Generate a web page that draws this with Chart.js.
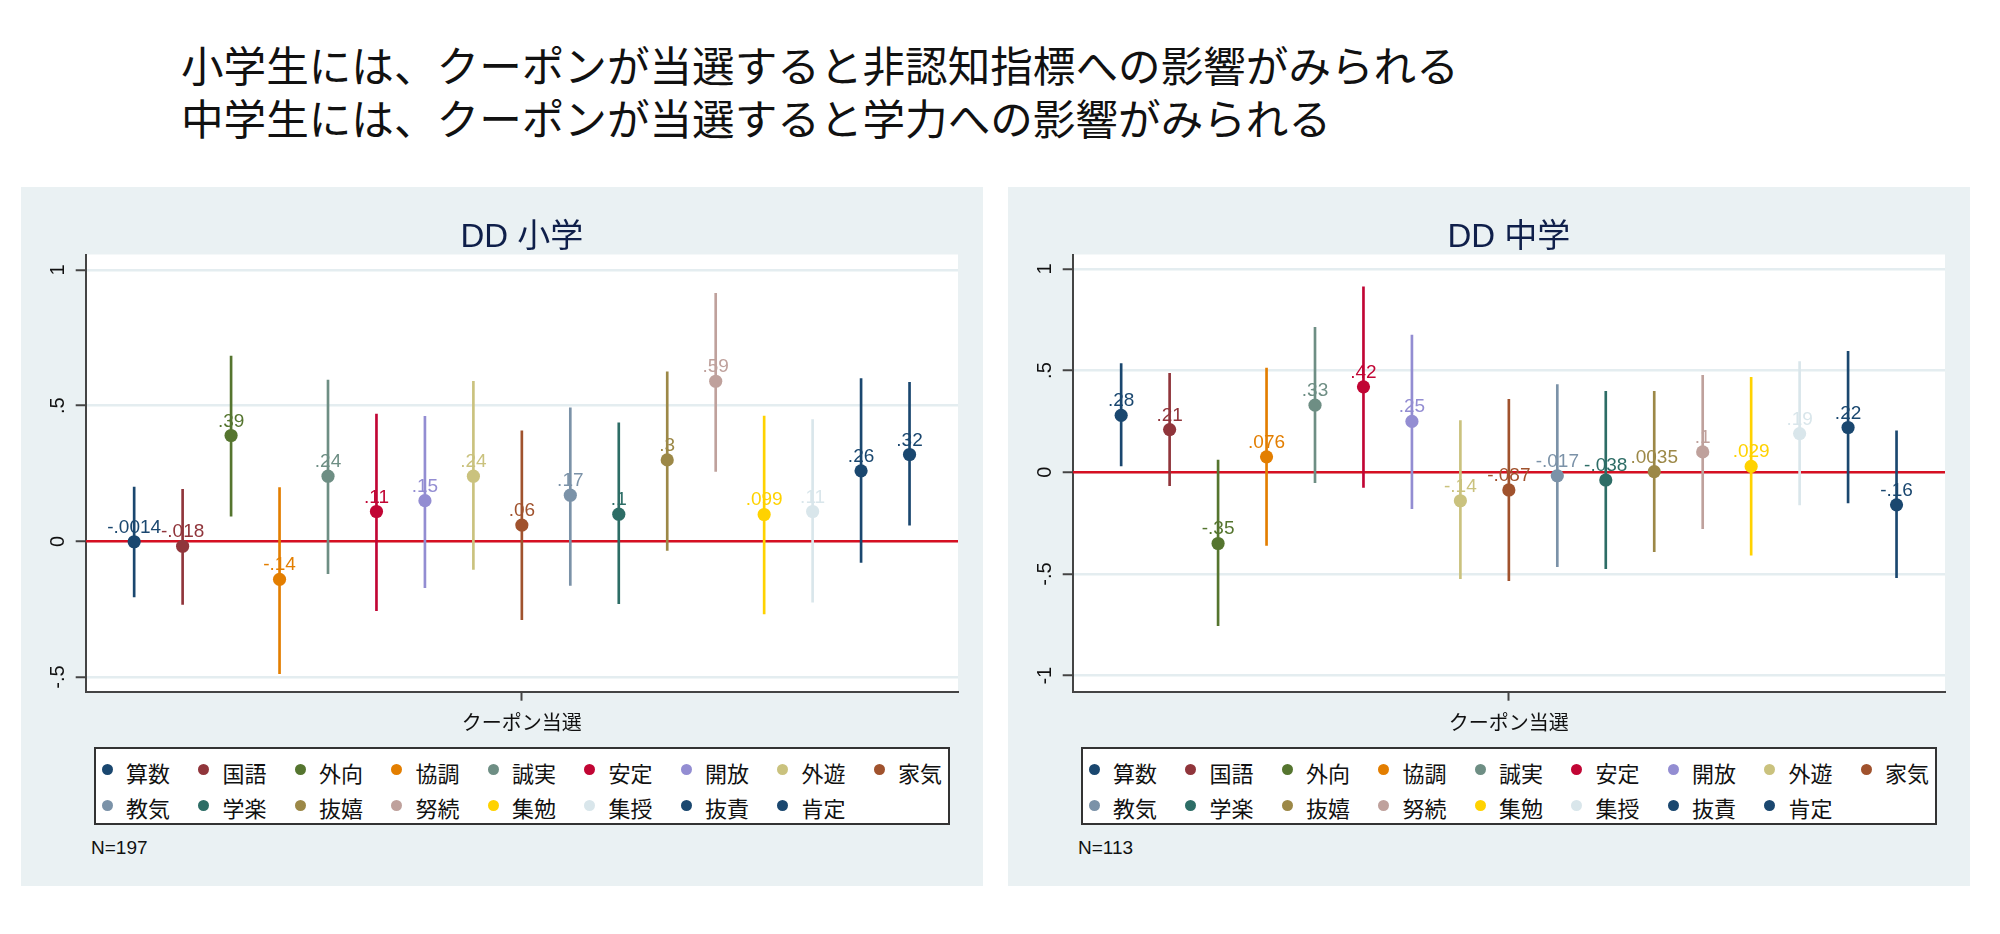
<!DOCTYPE html>
<html lang="ja">
<head>
<meta charset="utf-8">
<title>DD 小学 / 中学</title>
<script src="https://cdn.jsdelivr.net/npm/chart.js@4.4.1/dist/chart.umd.min.js"></script>
<style>
  html, body { margin: 0; padding: 0; background: #ffffff; }
  body { width: 2000px; height: 934px; position: relative; overflow: hidden; }
  .headline { position: absolute; left: 181px; font-family: "Noto Sans CJK JP", sans-serif; font-size: 42.6px; line-height: 42px; color: #111; white-space: nowrap; }
  .panel { position: absolute; top: 187px; width: 962px; height: 699px; background: #eaf1f3; }
  .panel canvas { position: absolute; left: 0; top: 0; }
  .legend { position: absolute; left: 73px; top: 560px; width: 856px; height: 78px; box-sizing: border-box; border: 2px solid #333; background: #fff; }
  .lg-dot { position: absolute; width: 11px; height: 11px; border-radius: 50%; }
  .lg-text { position: absolute; font-family: "Noto Sans CJK JP", sans-serif; font-size: 22px; line-height: 22px; color: #111; white-space: nowrap; }
  .nnote { position: absolute; left: 70px; top: 651px; font-family: "Liberation Sans", Arial, sans-serif; font-size: 19px; line-height: 19px; color: #111; }
</style>
</head>
<body>
<div class="headline" style="top:43px">小学生には、クーポンが当選すると非認知指標への影響がみられる</div>
<div class="headline" style="top:96px">中学生には、クーポンが当選すると学力への影響がみられる</div>

<div class="panel" id="panelL" style="left:21px">
  <canvas id="chartL" width="962" height="560"></canvas>
  <div class="legend" id="legendL"></div>
  <div class="nnote" id="nL"></div>
</div>
<div class="panel" id="panelR" style="left:1008px">
  <canvas id="chartR" width="962" height="560"></canvas>
  <div class="legend" id="legendR"></div>
  <div class="nnote" id="nR"></div>
</div>

<script>
// ---------- data ----------
const categories = ['算数','国語','外向','協調','誠実','安定','開放','外遊','家気','教気','学楽','抜嬉','努続','集勉','集授','抜責','肯定'];
const seriesColors = ['#1a476f','#90353b','#55752f','#e37e00','#6e8e84','#c10534','#938dd2','#cac27e','#a0522d','#7b92a8','#2d6d66','#9c8847','#bfa19c','#ffd200','#d9e6eb','#1a476f','#1a476f'];

const elemTitle = 'DD 小学';
const elemN = 'N=197';
const elemEst = [-0.0014, -0.018, 0.39, -0.14, 0.24, 0.11, 0.15, 0.24, 0.06, 0.17, 0.1, 0.3, 0.59, 0.099, 0.11, 0.26, 0.32];
const elemLo  = [-0.205, -0.232, 0.093, -0.488, -0.119, -0.255, -0.171, -0.103, -0.289, -0.162, -0.230, -0.033, 0.258, -0.267, -0.224, -0.078, 0.060];
const elemHi  = [0.200, 0.192, 0.683, 0.198, 0.594, 0.469, 0.461, 0.590, 0.407, 0.492, 0.437, 0.625, 0.914, 0.462, 0.449, 0.600, 0.586];
const elemTickValues = [-0.5, 0, 0.5, 1];
const elemTickLabels = ['-.5', '0', '.5', '1'];
const elemRange = [-0.554, 1.057];

const midTitle = 'DD 中学';
const midN = 'N=113';
const midEst = [0.28, 0.21, -0.35, 0.076, 0.33, 0.42, 0.25, -0.14, -0.087, -0.017, -0.038, 0.0035, 0.1, 0.029, 0.19, 0.22, -0.16];
const midLo  = [0.031, -0.066, -0.754, -0.360, -0.051, -0.074, -0.179, -0.523, -0.533, -0.464, -0.474, -0.390, -0.277, -0.408, -0.161, -0.151, -0.518];
const midHi  = [0.534, 0.486, 0.060, 0.512, 0.712, 0.912, 0.675, 0.254, 0.359, 0.431, 0.398, 0.398, 0.477, 0.467, 0.544, 0.594, 0.204];
const midTickValues = [-1, -0.5, 0, 0.5, 1];
const midTickLabels = ['-1', '-.5', '0', '.5', '1'];
const midRange = [-1.0786, 1.0705];

const xTickLabel = 'クーポン当選';
const refLineY = 0;

// ---------- helpers ----------
const LATIN = '"Liberation Sans", Arial, "Noto Sans CJK JP", sans-serif';
const CJK = '"Noto Sans CJK JP", "Liberation Sans", sans-serif';

function fmtLabel(v) {
  let s = String(Number(v.toPrecision(2)));
  return s.replace(/^(-?)0\./, '$1.');
}

const plotBg = {
  id: 'plotBg',
  beforeDraw(chart) {
    const { ctx, chartArea: a } = chart;
    ctx.save();
    ctx.fillStyle = '#ffffff';
    ctx.fillRect(a.left, a.top, a.right - a.left, a.bottom - a.top);
    ctx.restore();
  }
};

function makeLabelPlugin(labels, colors) {
  return {
    id: 'pointLabels',
    afterDatasetsDraw(chart) {
      const meta = chart.getDatasetMeta(0);
      const ctx = chart.ctx;
      ctx.save();
      ctx.font = '19px ' + LATIN;
      ctx.textAlign = 'center';
      ctx.textBaseline = 'alphabetic';
      meta.data.forEach((el, i) => {
        ctx.fillStyle = colors[i];
        ctx.fillText(labels[i], el.x, el.y - 9);
      });
      ctx.restore();
    }
  };
}

function makeChart(id, title, est, lo, hi, range, tickVals, tickLabels) {
  const n = categories.length;
  const xMid = (n + 1) / 2;
  const labels = est.map(fmtLabel);
  return new Chart(document.getElementById(id), {
    type: 'scatter',
    data: {
      datasets: [
        {
          type: 'scatter',
          data: est.map((v, i) => ({ x: i + 1, y: v })),
          backgroundColor: seriesColors,
          pointRadius: 6.6,
          pointBorderWidth: 0,
          borderWidth: 0,
          order: 0
        },
        {
          type: 'bar',
          data: lo.map((l, i) => ({ x: i + 1, y: [l, hi[i]] })),
          backgroundColor: seriesColors,
          barThickness: 2,
          borderWidth: 0,
          order: 1
        },
        {
          type: 'line',
          data: [{ x: 0, y: refLineY }, { x: n + 1, y: refLineY }],
          borderColor: 'rgb(214,16,34)',
          borderWidth: 2.5,
          pointRadius: 0,
          fill: false,
          order: 2
        }
      ]
    },
    options: {
      responsive: false,
      animation: false,
      devicePixelRatio: 1,
      events: [],
      layout: { padding: { left: 0, right: 25, top: 0, bottom: 0 } },
      plugins: {
        legend: { display: false },
        tooltip: { enabled: false },
        title: {
          display: true,
          text: title,
          fullSize: false,
          color: '#0f1f4a',
          font: { family: LATIN, size: 33, weight: 'normal', lineHeight: 1.0 },
          padding: { top: 34.5, bottom: 0 }
        }
      },
      scales: {
        x: {
          type: 'linear',
          min: 0,
          max: n + 1,
          offset: false,
          afterBuildTicks: s => { s.ticks = [{ value: xMid }]; },
          afterFit: s => { s.height = 55.3; },
          ticks: {
            callback: () => xTickLabel,
            autoSkip: false,
            maxRotation: 0,
            minRotation: 0,
            padding: 10,
            color: '#111',
            font: { family: CJK, size: 20 }
          },
          grid: { offset: false, drawOnChartArea: false, drawTicks: true, tickLength: 9, tickColor: '#444', tickWidth: 2 },
          border: { display: true, color: '#444', width: 2 }
        },
        y: {
          type: 'linear',
          min: range[0],
          max: range[1],
          afterBuildTicks: s => { s.ticks = tickVals.map(v => ({ value: v })); },
          afterFit: s => { s.width = 64.7; },
          ticks: {
            callback: (v, i) => tickLabels[i],
            autoSkip: false,
            minRotation: 90,
            maxRotation: 90,
            crossAlign: 'center',
            padding: 5.7,
            color: '#111',
            font: { family: LATIN, size: 20 }
          },
          grid: { color: '#e4edf0', lineWidth: 2.5, drawTicks: true, tickLength: 10, tickColor: '#444', tickWidth: 2 },
          border: { display: true, color: '#444', width: 2 }
        }
      }
    },
    plugins: [plotBg, makeLabelPlugin(labels, seriesColors)]
  });
}

function buildLegend(id) {
  const box = document.getElementById(id);
  categories.forEach((c, i) => {
    const col = i % 9, row = Math.floor(i / 9);
    const dot = document.createElement('span');
    dot.className = 'lg-dot';
    dot.style.background = seriesColors[i];
    dot.style.left = (13 + col * 96.5 - 5.5 - 2) + 'px';
    dot.style.top = (22 + row * 36 - 5.5 - 2) + 'px';
    const txt = document.createElement('span');
    txt.className = 'lg-text';
    txt.textContent = c;
    txt.style.left = (13 + col * 96.5 + 19 - 2) + 'px';
    txt.style.top = (26 + row * 35 - 12.2 - 2) + 'px';
    box.appendChild(dot);
    box.appendChild(txt);
  });
}

makeChart('chartL', elemTitle, elemEst, elemLo, elemHi, elemRange, elemTickValues, elemTickLabels);
makeChart('chartR', midTitle, midEst, midLo, midHi, midRange, midTickValues, midTickLabels);
buildLegend('legendL');
buildLegend('legendR');
document.getElementById('nL').textContent = elemN;
document.getElementById('nR').textContent = midN;
</script>
</body>
</html>
